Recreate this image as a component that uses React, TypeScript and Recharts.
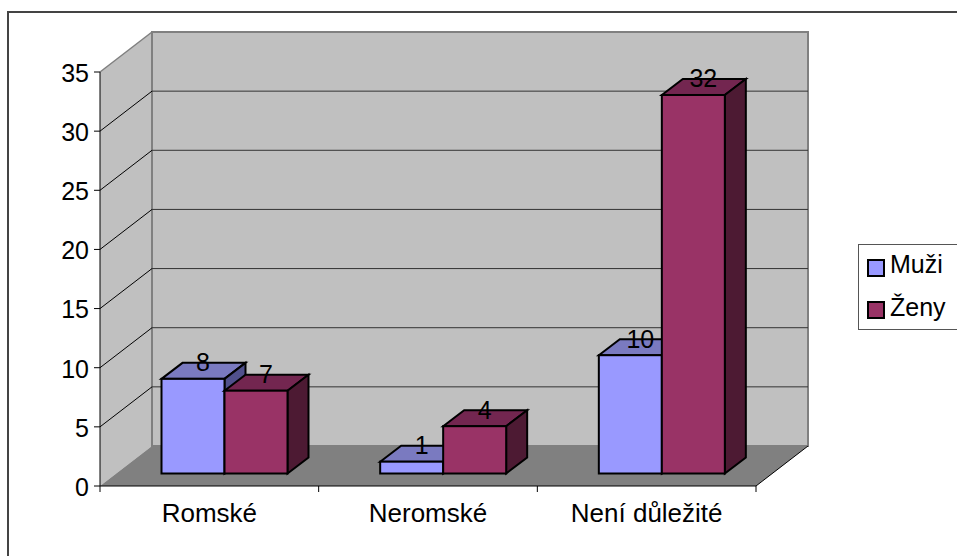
import React from 'react';
import { BarChart, Bar, XAxis, YAxis, CartesianGrid, LabelList, Legend } from 'recharts';

const categories = ['Romské', 'Neromské', 'Není důležité'];
const muzi = [8, 1, 10];
const zeny = [7, 4, 32];
const yTicks = [0, 5, 10, 15, 20, 25, 30, 35];
const rows = categories.map((name, i) => ({ name, muzi: muzi[i], zeny: zeny[i] }));

const FONT = '"Liberation Sans", Arial, sans-serif';
const FS = 25;
const L = 100, T = 72, R = 756, B = 486;
const WX = 52, WY = -40;
const BX = 15.5, BY = -12.5;
const DX = 21, DY = -16;

const Walls = () => (
  <g>
    <polygon points={`${L},${T} ${L + WX},${T + WY} ${L + WX},${B + WY} ${L},${B}`} fill="#c0c0c0" />
    <line x1={L} y1={T} x2={L + WX} y2={T + WY} stroke="#808080" strokeWidth={1.5} />
    <polygon points={`${L + WX},${T + WY} ${R + WX},${T + WY} ${R + WX},${B + WY} ${L + WX},${B + WY}`} fill="#c0c0c0" stroke="#808080" strokeWidth={2} />
    <polygon points={`${L},${B} ${L + WX},${B + WY} ${R + WX},${B + WY} ${R},${B}`} fill="#808080" />
    <line x1={R} y1={B} x2={R + WX} y2={B + WY} stroke="#000" strokeWidth={1} />
  </g>
);

const GridLine = (p: any) => {
  const y = p.y1;
  const edge = y <= T + 1 || y >= B - 1;
  return (
    <g key={p.key ?? y}>
      {p.index === 0 ? <Walls /> : null}
      {edge ? null : (
        <>
          <line x1={L} y1={y} x2={L + WX} y2={y + WY} stroke="#000" strokeWidth={1} />
          <line x1={L + WX} y1={y + WY} x2={R + WX} y2={y + WY} stroke="#333" strokeWidth={1} />
        </>
      )}
    </g>
  );
};

const Box = (p: any) => {
  const x = p.x + BX, y = p.y + BY, w = p.width, h = p.height;
  const front = p.front, top = p.topFill, side = p.sideFill;
  return (
    <g stroke="#000" strokeWidth={2} strokeLinejoin="miter">
      <polygon points={`${x},${y} ${x + DX},${y + DY} ${x + w + DX},${y + DY} ${x + w},${y}`} fill={top} />
      <polygon points={`${x + w},${y} ${x + w + DX},${y + DY} ${x + w + DX},${y + h + DY} ${x + w},${y + h}`} fill={side} />
      <rect x={x} y={y} width={w} height={h} fill={front} />
    </g>
  );
};

const DataLabel = (p: any) => (
  <text x={p.x + p.width / 2 + BX + 10} y={p.y + BY - 7.5} textAnchor="middle" fontFamily={FONT} fontSize={FS} fill="#000">
    {p.value}
  </text>
);

const CategoryTick = (p: any) => {
  const band = (R - L) / categories.length;
  const left = p.x - band / 2;
  return (
    <g>
      <line x1={left} y1={B} x2={left} y2={B + 6} stroke="#000" />
      {p.index === categories.length - 1 ? <line x1={left + band} y1={B} x2={left + band} y2={B + 6} stroke="#000" /> : null}
      <text x={p.x} y={B + 36} textAnchor="middle" fontFamily={FONT} fontSize={26} fill="#000">
        {p.payload.value}
      </text>
    </g>
  );
};

const LegendBox = () => (
  <svg width={99} height={88} style={{ display: 'block' }}>
    <rect x={0.5} y={0.5} width={120} height={85} fill="#fff" stroke="#555" />
    <rect x={10} y={16} width={16} height={16} fill="#9999ff" stroke="#000" strokeWidth={2} />
    <rect x={10} y={58} width={16} height={16} fill="#993366" stroke="#000" strokeWidth={2} />
    <text x={32} y={29} fontFamily={FONT} fontSize={FS} fill="#000">Muži</text>
    <text x={32} y={72} fontFamily={FONT} fontSize={FS} fill="#000">Ženy</text>
  </svg>
);

export default function App() {
  return (
    <div style={{ position: 'absolute', left: 0, top: 0, width: 957, height: 556, background: '#fff', overflow: 'hidden' }}>
      <div style={{ position: 'absolute', left: 7, top: 11, width: 960, height: 560, border: '2px solid #444', boxSizing: 'border-box' }} />
      <BarChart
        width={957}
        height={556}
        data={rows}
        barCategoryGap={46}
        barGap={0}
        margin={{ left: 0, top: T, right: 957 - R, bottom: 0 }}
        style={{ position: 'absolute', left: 0, top: 0 }}
      >
        <CartesianGrid vertical={false} horizontal={GridLine as any} />
        <XAxis
          dataKey="name"
          height={556 - B}
          axisLine={{ stroke: '#000' }}
          tickLine={false}
          interval={0}
          tick={CategoryTick as any}
        />
        <YAxis
          width={L}
          domain={[0, 35]}
          ticks={yTicks}
          axisLine={{ stroke: '#000' }}
          tickLine={{ stroke: '#000' }}
          tickSize={6}
          tick={{ fontFamily: FONT, fontSize: FS, fill: '#000', dx: -3, dy: 1 }}
        />
        <Legend
          layout="vertical"
          align="center"
          verticalAlign="middle"
          content={<LegendBox />}
          wrapperStyle={{ position: 'absolute', left: 858, top: 244, width: 99, height: 88 }}
        />
        <Bar dataKey="muzi" name="Muži" isAnimationActive={false} shape={<Box front="#9999ff" topFill="#7a7ac0" sideFill="#50508c" />}>
          <LabelList dataKey="muzi" content={DataLabel as any} />
        </Bar>
        <Bar dataKey="zeny" name="Ženy" isAnimationActive={false} shape={<Box front="#993366" topFill="#732650" sideFill="#4d1a33" />}>
          <LabelList dataKey="zeny" content={DataLabel as any} />
        </Bar>
      </BarChart>
    </div>
  );
}
